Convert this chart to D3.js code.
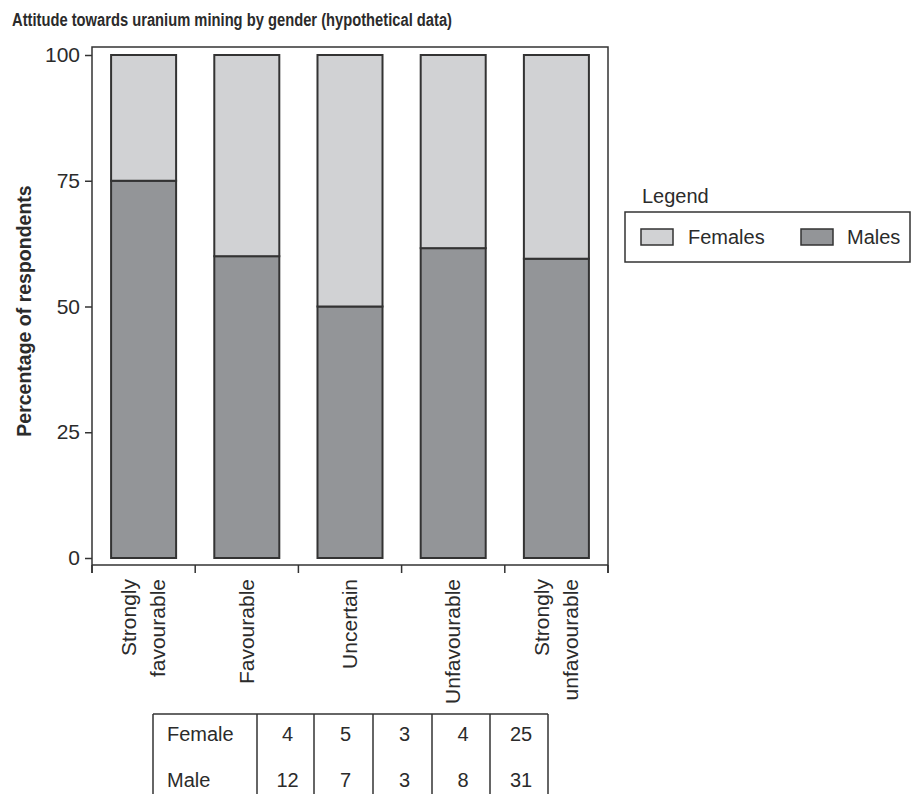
<!DOCTYPE html>
<html>
<head>
<meta charset="utf-8">
<script src="https://cdn.jsdelivr.net/npm/d3@7"></script>
<style>
  html, body { margin: 0; padding: 0; background: #fff; }
  svg { display: block; }
  text { font-family: "Liberation Sans", Arial, Helvetica, sans-serif; fill: #2b2b2b; }
</style>
</head>
<body>
<svg id="chart" width="912" height="794"></svg>
<script>
// ---- data ----
const categories = ["Strongly favourable", "Favourable", "Uncertain", "Unfavourable", "Strongly unfavourable"];
const categoryLines = [["Strongly", "favourable"], ["Favourable"], ["Uncertain"], ["Unfavourable"], ["Strongly", "unfavourable"]];
const malesPct = [75, 60, 50, 61.6, 59.5];
const femalesPct = [25, 40, 50, 38.4, 40.5];
const seriesNames = ["Females", "Males"];
const yTicks = [0, 25, 50, 75, 100];
const tableRowLabels = ["Female", "Male"];
const tableFemale = [4, 5, 3, 4, 25];
const tableMale = [12, 7, 3, 8, 31];
const titleText = "Attitude towards uranium mining by gender (hypothetical data)";
const yTitle = "Percentage of respondents";

// ---- styles ----
const colFemale = "#d1d2d4";
const colMale = "#939598";
const stroke = "#333333";

const svg = d3.select("#chart");

// plot frame
const L = 92, R = 608, T = 47, B = 565;
const x = d3.scaleBand().domain(categories).range([L, R]).paddingInner(0.37).paddingOuter(0.185);
const y = d3.scaleLinear().domain([0, 100]).range([558, 55]);

// title
svg.append("text")
  .attr("x", 12).attr("y", 26)
  .attr("font-size", 17.5).attr("font-weight", "bold")
  .attr("textLength", 440).attr("lengthAdjust", "spacingAndGlyphs")
  .text(titleText);

// frame lines
svg.append("path")
  .attr("d", `M${L},${B + 8} L${L},${T} L${R},${T} L${R},${B + 8}`)
  .attr("fill", "none").attr("stroke", stroke).attr("stroke-width", 1.5);

// x axis line + ticks at band boundaries
const step = x.step();
const boundaries = d3.range(categories.length + 1).map(i => L + i * step);
svg.append("line").attr("x1", L).attr("x2", R).attr("y1", B).attr("y2", B)
  .attr("stroke", stroke).attr("stroke-width", 1.5);
svg.selectAll(".xtick").data(boundaries).enter().append("line")
  .attr("x1", d => d).attr("x2", d => d).attr("y1", B).attr("y2", B + 8)
  .attr("stroke", stroke).attr("stroke-width", 1.5);

// y axis
const yAxis = d3.axisLeft(y).tickValues(yTicks).tickSize(7).tickPadding(5).tickFormat(d3.format("d"));
const yg = svg.append("g").attr("transform", `translate(${L},0)`).call(yAxis);
yg.select(".domain").remove();
yg.selectAll(".tick line").attr("stroke", stroke).attr("stroke-width", 1.5);
yg.selectAll(".tick text").attr("font-size", 21).attr("font-family", "Liberation Sans, Arial, sans-serif").attr("fill", "#2b2b2b");

// y title
svg.append("text")
  .attr("transform", `translate(31,${(T + B) / 2 + 5}) rotate(-90)`)
  .attr("text-anchor", "middle")
  .attr("font-size", 19.5).attr("font-weight", "bold")
  .text(yTitle);

// bars
const stackData = categories.map((c, i) => ({ cat: c, Males: malesPct[i], Females: femalesPct[i] }));
const stacked = d3.stack().keys(["Males", "Females"])(stackData);
const colorOf = { Males: colMale, Females: colFemale };
svg.append("g").selectAll("g").data(stacked).enter().append("g")
  .attr("fill", d => colorOf[d.key])
  .selectAll("rect").data(d => d).enter().append("rect")
  .attr("x", d => x(d.data.cat))
  .attr("width", x.bandwidth())
  .attr("y", d => y(d[1]))
  .attr("height", d => y(d[0]) - y(d[1]))
  .attr("stroke", stroke).attr("stroke-width", 2);

// category labels (rotated)
categories.forEach((c, i) => {
  const lines = categoryLines[i];
  const cx = x(c) + x.bandwidth() / 2;
  const gap = 29;
  lines.forEach((ln, j) => {
    const off = (j - (lines.length - 1) / 2) * gap;
    svg.append("text")
      .attr("transform", `translate(${cx + off + 7},579) rotate(-90)`)
      .attr("text-anchor", "end")
      .attr("font-size", 21)
      .text(ln);
  });
});

// table
const colEdges = [153, 257, 314, 373, 432, 490, 548];
const tTop = 714;
const tg = svg.append("g");
tg.append("line").attr("x1", colEdges[0]).attr("x2", colEdges[colEdges.length - 1])
  .attr("y1", tTop).attr("y2", tTop).attr("stroke", stroke).attr("stroke-width", 1.5);
colEdges.forEach(cx => {
  tg.append("line").attr("x1", cx).attr("x2", cx).attr("y1", tTop).attr("y2", 800)
    .attr("stroke", stroke).attr("stroke-width", 1.5);
});
const rowBase = [741, 787];
[tableFemale, tableMale].forEach((row, r) => {
  tg.append("text").attr("x", 167).attr("y", rowBase[r]).attr("font-size", 20).text(tableRowLabels[r]);
  row.forEach((v, k) => {
    const mid = (colEdges[k + 1] + colEdges[k + 2]) / 2 + 2;
    tg.append("text").attr("x", mid).attr("y", rowBase[r])
      .attr("text-anchor", "middle").attr("font-size", 20).text(v);
  });
});

// legend
const lg = svg.append("g");
lg.append("text").attr("x", 642).attr("y", 203).attr("font-size", 20).text("Legend");
lg.append("rect").attr("x", 625).attr("y", 212).attr("width", 285).attr("height", 50)
  .attr("fill", "none").attr("stroke", stroke).attr("stroke-width", 1.5);
const legItems = [
  { name: seriesNames[0], color: colFemale, sx: 641, tx: 688 },
  { name: seriesNames[1], color: colMale, sx: 801, tx: 847 }
];
legItems.forEach(it => {
  lg.append("rect").attr("x", it.sx).attr("y", 229).attr("width", 32).attr("height", 16)
    .attr("fill", it.color).attr("stroke", stroke).attr("stroke-width", 1.5);
  lg.append("text").attr("x", it.tx).attr("y", 244).attr("font-size", 20).text(it.name);
});
</script>
</body>
</html>
